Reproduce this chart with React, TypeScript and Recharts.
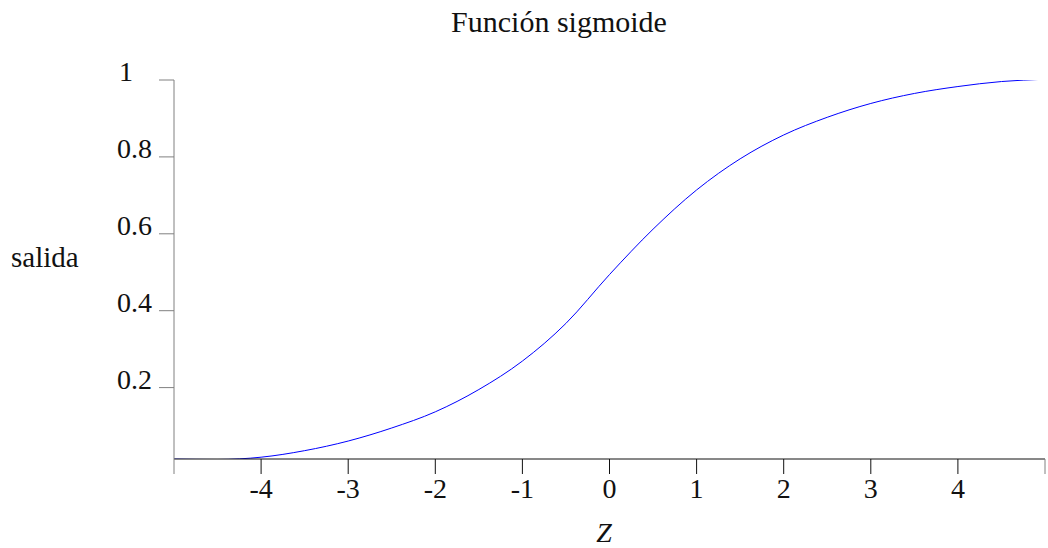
import React from "react";
import { LineChart, Line, XAxis, YAxis } from "recharts";

// values
const zValues = [-5, -4.5, -4, -3.5, -3, -2.5, -2, -1.5, -1, -0.5, 0, 0.5, 1, 1.5, 2, 2.5, 3, 3.5, 4, 4.5, 5];
const salidaValues = [
  0.014, 0.013, 0.019, 0.036, 0.061, 0.095, 0.137, 0.195, 0.269, 0.367, 0.494,
  0.612, 0.714, 0.795, 0.857, 0.903, 0.939, 0.965, 0.983, 0.996, 1.002,
];
const xTicks = [-5, -4, -3, -2, -1, 0, 1, 2, 3, 4, 5];
const yTicks = [0.2, 0.4, 0.6, 0.8, 1];

const data = zValues.map((z, i) => ({ z, salida: salidaValues[i] }));

const FONT = "'Liberation Serif', 'DejaVu Serif', serif";
const AXIS_GRAY = "#808080";

const XTick = (props: any) => {
  const { x, y, payload } = props;
  const v = payload.value as number;
  const edge = v === -5 || v === 5;
  return (
    <g>
      <line x1={x} y1={y} x2={x} y2={y + 15} stroke={edge ? AXIS_GRAY : "#111"} strokeWidth={1} />
      {!edge && (
        <text x={x} y={y + 39} textAnchor="middle" fontFamily={FONT} fontSize={28} fill="#111">
          {v}
        </text>
      )}
    </g>
  );
};

const YTick = (props: any) => {
  const { x, y, payload } = props;
  const v = payload.value as number;
  return (
    <g>
      <line x1={x - 15} y1={y} x2={x} y2={y} stroke={AXIS_GRAY} strokeWidth={1} />
      <text
        x={v === 1 ? x - 41 : x - 22}
        y={y + 1}
        textAnchor="end"
        fontFamily={FONT}
        fontSize={28}
        fill="#111"
      >
        {v}
      </text>
    </g>
  );
};

export default function App() {
  return (
    <div style={{ position: "absolute", left: 0, top: 0, width: 1048, height: 548, background: "#fff" }}>
      <LineChart
        width={1048}
        height={548}
        data={data}
        margin={{ top: 80, right: 3, bottom: 29, left: 114 }}
      >
        <XAxis
          type="number"
          dataKey="z"
          domain={[-5, 5]}
          ticks={xTicks}
          interval={0}
          height={60}
          tickSize={0}
          tickMargin={0}
          tickLine={false}
          axisLine={{ stroke: "#111", strokeWidth: 1 }}
          tick={<XTick />}
        />
        <YAxis
          type="number"
          domain={[0.0143, 1]}
          allowDataOverflow
          ticks={yTicks}
          interval={0}
          width={60}
          tickSize={0}
          tickMargin={0}
          tickLine={false}
          axisLine={{ stroke: AXIS_GRAY, strokeWidth: 1 }}
          tick={<YTick />}
        />
        <Line
          type="monotone"
          dataKey="salida"
          stroke="#0000ff"
          strokeWidth={1}
          dot={false}
          isAnimationActive={false}
        />
      </LineChart>
      <svg
        width={1048}
        height={548}
        style={{ position: "absolute", left: 0, top: 0, pointerEvents: "none" }}
      >
        <text x={559} y={32} textAnchor="middle" fontFamily={FONT} fontSize={30} fill="#111">
          Función sigmoide
        </text>
        <text x={11} y={267} fontFamily={FONT} fontSize={29} fill="#111">
          salida
        </text>
        <text x={604} y={542} textAnchor="middle" fontFamily={FONT} fontStyle="italic" fontSize={28} fill="#111">
          Z
        </text>
      </svg>
    </div>
  );
}
